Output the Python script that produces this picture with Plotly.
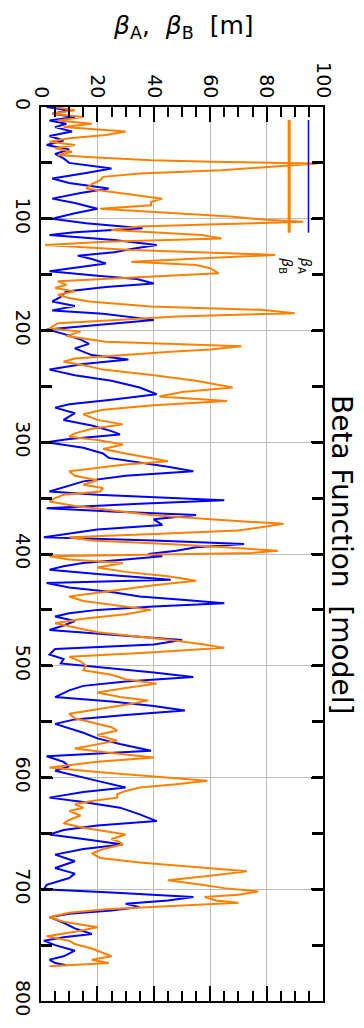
import plotly.graph_objects as go

# beta_A (blue): s positions [m] and beta values [m]
s_a = [0, 3, 6, 9, 12, 15, 18, 22, 26, 30, 34, 38, 42, 46, 50, 55, 59, 64, 68, 73, 77, 82, 86, 91, 95, 100,
       104, 108.6, 112, 114.6, 119, 123.5, 127, 130, 133, 136, 140, 144, 147, 151, 154, 158, 161, 165, 170,
       174, 178, 182, 185, 190.5, 195, 199, 203, 208, 212, 216, 222, 226, 230, 235, 240, 245, 251, 257, 262,
       266, 269, 274, 280, 285, 290, 293, 297, 300, 305, 310, 314, 318, 322, 326, 330, 335, 340, 344, 347,
       350, 352, 355, 359, 362, 365, 369, 374, 378, 382, 385, 388, 391, 394, 397, 400, 402, 405, 408, 411,
       414, 418, 423, 426, 430, 434, 438, 441, 444, 447, 450, 453, 456, 460, 464, 468, 472, 477, 481, 485,
       490, 494, 498, 502, 506, 510, 514, 518, 522, 528, 532, 536, 540, 544, 548, 552, 556, 560, 565, 570,
       576, 581, 586, 590, 594, 598, 603, 609, 613, 618, 622, 627, 633, 639, 643, 647, 651, 655, 660, 664,
       669, 675, 681, 686, 690, 696, 700, 703, 707, 710, 713, 716, 719, 722, 725, 730, 735, 740, 743, 746,
       750, 755, 760, 763, 766, 768]
beta_a = [2, 10, 4, 12, 3, 9, 5, 11, 3, 8, 2, 10, 5, 8, 10, 25, 16, 4, 10, 24, 14, 4, 12, 20, 12, 4,
          16, 36, 12, 3, 26, 41, 32, 26, 13, 18, 23, 12, 3, 20, 34, 40, 23, 9, 7,
          4, 12, 4, 22, 40, 19, 2, 8, 14, 17, 12, 18, 31, 15, 3, 12, 25, 35, 41, 25,
          10, 5, 12, 8, 18, 25, 28, 10, 2, 15, 22, 24, 35, 45, 54, 30, 15, 8, 3, 20,
          45, 65, 35, 2, 25, 55, 40, 43, 20, 8, 1, 40, 72, 55, 48, 38, 43, 30, 15, 8,
          3, 20, 46, 2, 10, 25, 35, 50, 65, 40, 20, 10, 5, 12, 8, 3, 25, 50, 40, 5,
          3, 8, 7, 25, 40, 54, 30, 15, 10, 5, 25, 40, 51, 30, 12, 5, 10, 15, 20, 28,
          39, 2, 8, 10, 5, 12, 20, 30, 15, 3, 15, 28, 35, 41, 20, 8, 3, 15, 29, 15,
          5, 12, 5, 12, 10, 2, 1, 25, 54, 45, 30, 35, 25, 10, 3, 8, 12, 18, 8, 1,
          5, 12, 8, 3, 5, 9]

# beta_B (orange)
s_b = [0, 3, 6, 9, 12, 15, 18, 22, 25, 28, 31, 34, 37, 40, 43, 45, 47.6, 49, 50.6, 52, 53.6, 56.5, 59.5,
       62.5, 65.5, 69, 73, 76, 79, 82, 85, 88, 91, 95, 98, 101, 102.7, 105, 107, 110, 113, 114.6, 117.6,
       120.5, 123.5, 126, 128, 131, 132.4, 135.4, 138.4, 141.4, 144.3, 148.8, 151, 153.3, 156, 159, 162,
       165, 168, 171, 174, 178.6, 181.5, 184.5, 187.5, 190.5, 193.5, 198, 201, 205, 210, 214, 217, 219,
       222, 225, 228, 231, 235, 240, 245, 251, 255, 259, 263, 267, 271, 275, 280, 284, 288, 292, 295, 298,
       302, 306, 310, 314, 317, 320, 323, 326, 330, 334, 338, 341, 344, 347, 350, 353, 357, 361, 365, 369,
       373, 376, 379, 382, 385, 388, 391, 394, 397, 399, 402, 405, 408, 412, 416, 420, 424, 428, 432, 435,
       438, 442, 446, 450, 454, 458, 462, 466, 470, 474, 477, 481, 484, 488, 492, 496, 500, 504, 508, 512,
       516, 520, 524, 528, 531, 535, 539, 543, 547, 551, 555, 558, 562, 567, 570, 574, 578, 582, 586, 591,
       595, 599, 603, 606, 609, 612, 615, 618, 621, 624, 627, 630, 634, 638, 641, 645, 648, 651, 655, 658,
       660, 664, 668, 672, 676, 680, 684, 688, 692, 696, 699, 702, 705, 707, 710, 712, 715, 718, 721, 725,
       729, 734, 738, 742, 746, 749, 753, 757, 760, 763, 766, 769]
beta_b = [5, 12, 4, 15, 6, 18, 8, 30, 23, 10, 3, 12, 5, 11, 6, 18, 39, 61, 98, 90, 84, 64, 35,
          22, 21, 18, 16, 25, 33, 43, 39, 39, 21, 47, 67, 80, 93, 62, 35, 25, 46, 57, 64,
          23, 1.5, 20, 32, 69, 83, 58, 32, 55, 60, 63, 45, 23, 6, 9, 5,
          12, 6, 10, 17, 39, 78, 90, 48, 27, 6, 3, 14, 9, 23, 71, 60, 46,
          30, 12, 8, 15, 22, 40, 55, 68, 50, 42, 66, 40, 22, 15, 20, 29, 18, 12, 10, 20,
          29, 22, 30, 38, 45, 30, 20, 10, 12, 20, 15, 22, 21, 8, 5, 3, 12, 25, 39, 60,
          86, 78, 70, 40, 10, 18, 45, 65, 84, 75, 3, 10, 29, 20, 30, 45, 55, 40, 28, 18,
          10, 15, 28, 39, 30, 15, 5, 12, 20, 35, 46, 58, 65, 40, 10, 14, 16, 15, 25, 30,
          41, 30, 20, 28, 38, 30, 20, 10, 12, 18, 25, 27, 20, 27, 20, 12, 25, 40, 20, 3,
          20, 40, 59, 48, 35, 30, 27, 27, 18, 12, 15, 10, 14, 10, 8, 15, 22, 30, 25, 28,
          29, 22, 18, 21, 35, 55, 73, 60, 45, 57, 65, 77, 70, 58, 62, 70, 45, 23, 10, 3,
          8, 20, 12, 2, 10, 12, 18, 22, 25, 18, 24, 3]

x_ticks = [0, 20, 40, 60, 80, 100]
y_ticks = [0, 100, 200, 300, 400, 500, 600, 700, 800]

BLUE = "#0000ff"
ORANGE = "#ff8000"
FONT = "DejaVu Sans"

fig = go.Figure()
fig.add_trace(go.Scatter(x=beta_a, y=s_a, mode="lines", line=dict(color=BLUE, width=2),
                         name="βA", showlegend=False))
fig.add_trace(go.Scatter(x=beta_b, y=s_b, mode="lines", line=dict(color=ORANGE, width=2),
                         name="βB", showlegend=False))

fig.update_layout(
    width=364, height=1028,
    margin=dict(l=32, r=41, t=107, b=25),
    paper_bgcolor="white", plot_bgcolor="white",
    font=dict(family=FONT, color="black", size=18),
)
fig.update_xaxes(
    range=[0, 100], side="top", tickvals=x_ticks, ticktext=[str(v) for v in x_ticks],
    tickangle=90, tickfont=dict(size=19),
    showgrid=True, gridcolor="#bdbdbd", gridwidth=1.2,
    ticks="inside", ticklen=15, tickwidth=1.5, tickcolor="black",
    minor=dict(ticks="inside", dtick=5, ticklen=10, tickwidth=2.2, tickcolor="black", showgrid=False),
    showline=True, linecolor="black", linewidth=2, mirror="ticks", zeroline=False,
)
fig.update_yaxes(
    range=[800, 0], tickvals=y_ticks, ticktext=[str(v) for v in y_ticks],
    tickangle=90, tickfont=dict(size=19),
    showgrid=True, gridcolor="#bdbdbd", gridwidth=1.2,
    ticks="inside", ticklen=12, tickwidth=1.5, tickcolor="black",
    minor=dict(ticks="inside", dtick=50, ticklen=11, tickwidth=2.5, tickcolor="black", showgrid=False),
    showline=True, linecolor="black", linewidth=2, mirror="ticks", zeroline=False,
)

# axis title (top)
fig.add_annotation(text="<i>β</i><sub>A</sub>,  <i>β</i><sub>B</sub>  [m]", xref="paper", yref="paper",
                   x=0.507, y=1.0, yshift=80, showarrow=False, font=dict(size=25, family=FONT),
                   xanchor="center", yanchor="middle")
# plot title (right side, rotated)
fig.add_annotation(text="Beta Function  [model]", xref="paper", yref="paper",
                   x=1.0, y=0.5, xshift=19, showarrow=False, textangle=90,
                   font=dict(size=28, family=FONT), xanchor="center", yanchor="middle")

# legend (rotated)
leg = [("<i>β</i><sub>A</sub>", BLUE, 1.5, 0.9485), ("<i>β</i><sub>B</sub>", ORANGE, 3, 0.8800)]
for label, col, w, xp in leg:
    fig.add_shape(type="line", xref="paper", yref="paper", x0=xp, x1=xp,
                  y0=1 - (120 - 107) / 896, y1=1 - (233 - 107) / 896,
                  line=dict(color=col, width=w))
    fig.add_annotation(text=label, xref="paper", yref="paper", x=xp - 0.01, y=1 - (266 - 107) / 896,
                       showarrow=False, textangle=90, font=dict(size=14, family=FONT),
                       xanchor="center", yanchor="middle")

fig.write_html("out.html")
